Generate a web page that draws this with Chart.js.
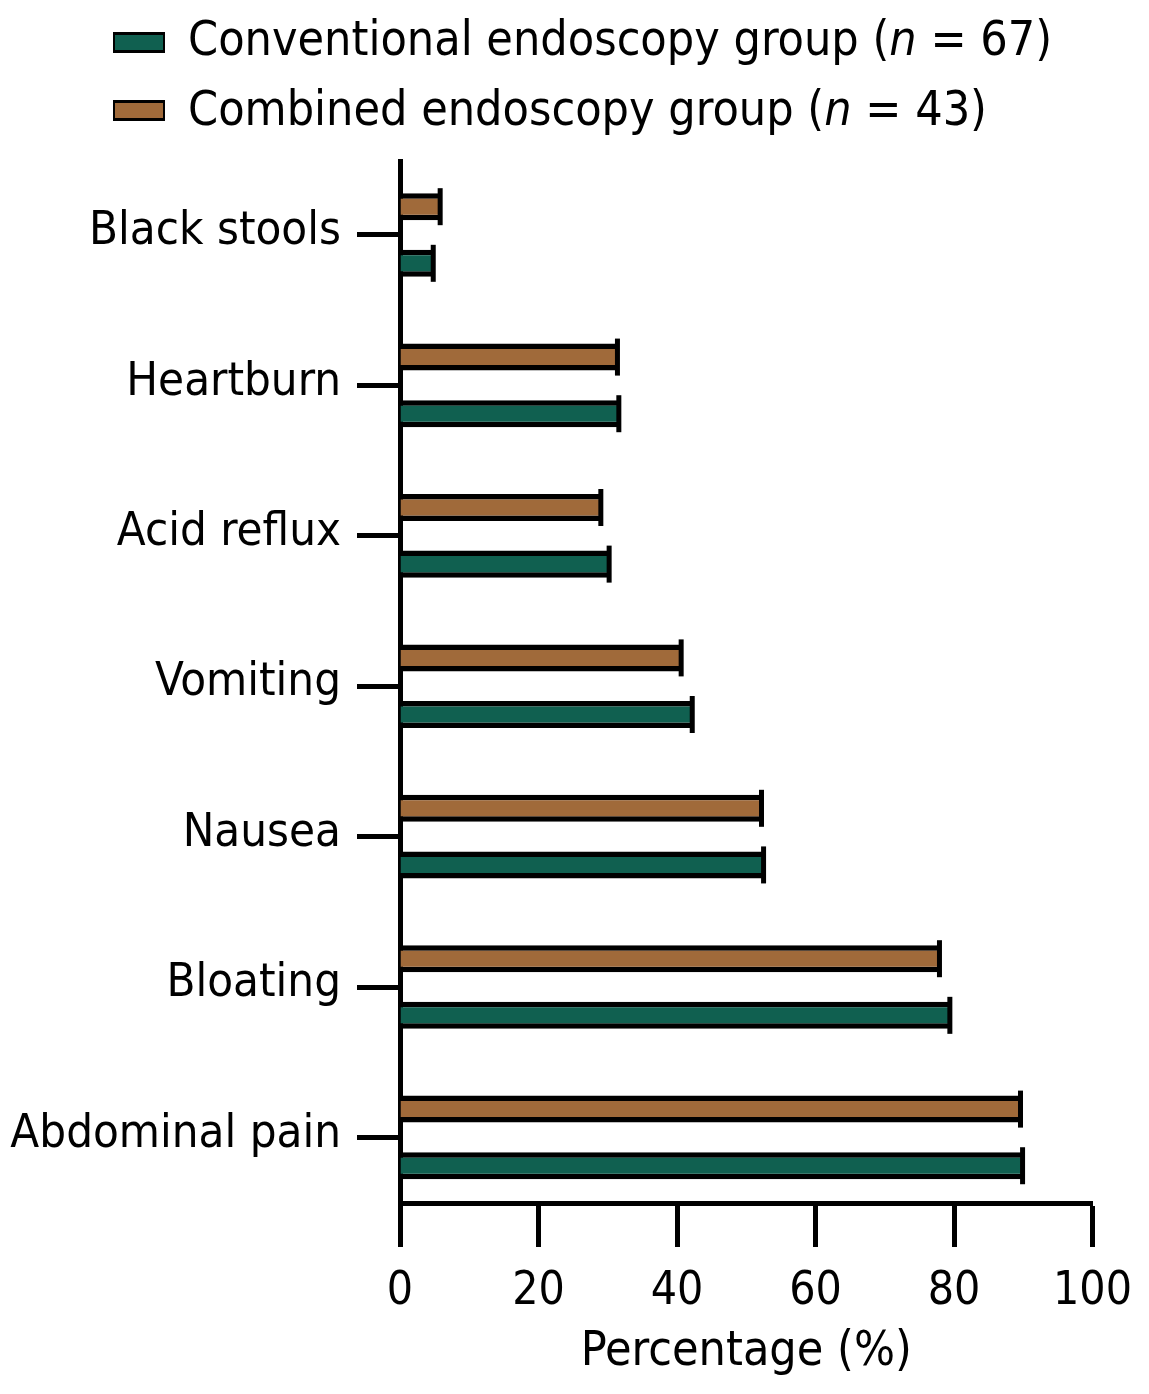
<!DOCTYPE html>
<html>
<head>
<meta charset="utf-8">
<script src="https://cdn.jsdelivr.net/npm/chart.js@4.4.1/dist/chart.umd.min.js"></script>
<style>
  body { margin: 0; background: #fff; }
  #wrap { position: relative; width: 1149px; height: 1394px; }
  #legend { position: absolute; left: 0; top: 0; font-family: "DejaVu Sans Condensed", "DejaVu Sans", sans-serif; font-size: 48px; color: #000; }
  .swatch { position: absolute; left: 113px; width: 52px; height: 21px; box-sizing: border-box; border: solid #000; border-width: 3px 2px; }
  .txt { position: absolute; left: 188px; line-height: 48px; white-space: nowrap; }
</style>
</head>
<body>
<div id="wrap">
  <canvas id="grafic" width="1149" height="1394"></canvas>
  <div id="legend"></div>
</div>
<script>
// Dades del gràfic
const simptomes = ['Black stools', 'Heartburn', 'Acid reflux', 'Vomiting', 'Nausea', 'Bloating', 'Abdominal pain'];
const grupConvencional = [4.8, 31.6, 30.2, 42.2, 52.5, 79.4, 89.9];
const grupCombinat = [5.8, 31.4, 29.0, 40.6, 52.2, 77.9, 89.6];
const ticksPercentatge = [0, 20, 40, 60, 80, 100];

const nomConvencional = 'Conventional endoscopy group';
const nomCombinat = 'Combined endoscopy group';
const nConvencional = 67;
const nCombinat = 43;

const colorVerd = '#106050';
const colorMarro = '#A06A3A';
const font = '"DejaVu Sans Condensed", "DejaVu Sans", sans-serif';

// Llegenda en HTML (la n va en cursiva)
function pintarLlegenda() {
    const files = [
        { nom: nomConvencional, n: nConvencional, color: colorVerd, top: 32, textTop: 14 },
        { nom: nomCombinat, n: nCombinat, color: colorMarro, top: 100, textTop: 84 }
    ];
    let html = '';
    for (let i = 0; i < files.length; i++) {
        const f = files[i];
        html += `<div class="swatch" style="top:${f.top}px;background:${f.color}"></div>`;
        html += `<div class="txt" style="top:${f.textTop}px">${f.nom} (<i>n</i> = ${f.n})</div>`;
    }
    document.getElementById('legend').innerHTML = html;
}

// Tapa negra al final de cada barra
const tapaBarres = {
    id: 'tapaBarres',
    afterDatasetsDraw(chart) {
        const ctx = chart.ctx;
        ctx.save();
        ctx.strokeStyle = '#000';
        ctx.lineWidth = 5;
        chart.data.datasets.forEach((ds, i) => {
            chart.getDatasetMeta(i).data.forEach(bar => {
                const p = bar.getProps(['x', 'y', 'height'], true);
                ctx.beginPath();
                ctx.moveTo(p.x, p.y - p.height / 2 - 5);
                ctx.lineTo(p.x, p.y + p.height / 2 + 5);
                ctx.stroke();
            });
        });
        ctx.restore();
    }
};

Chart.defaults.color = '#000';
Chart.defaults.font.family = font;

new Chart(document.getElementById('grafic'), {
    type: 'bar',
    data: {
        labels: simptomes,
        datasets: [
            {
                label: nomCombinat,
                data: grupCombinat,
                backgroundColor: colorMarro,
                borderColor: '#000',
                borderWidth: { top: 5.5, bottom: 5.5, left: 0, right: 0 },
                borderSkipped: false
            },
            {
                label: nomConvencional,
                data: grupConvencional,
                backgroundColor: colorVerd,
                borderColor: '#000',
                borderWidth: { top: 5.5, bottom: 5.5, left: 0, right: 0 },
                borderSkipped: false
            }
        ]
    },
    options: {
        indexAxis: 'y',
        responsive: false,
        animation: false,
        categoryPercentage: 0.753,
        barPercentage: 0.477,
        layout: { padding: { top: 161, right: 56, bottom: 0, left: 0 } },
        plugins: {
            legend: { display: false },
            tooltip: { enabled: false }
        },
        scales: {
            y: {
                type: 'category',
                offset: true,
                grid: { drawOnChartArea: false, offset: false, tickLength: 43, tickWidth: 5, tickColor: '#000' },
                border: { display: true, width: 5, color: '#000' },
                ticks: { font: { size: 47, family: font }, padding: 16, labelOffset: -3, color: '#000' },
                afterFit(scale) { scale.width = 400; },
                afterBuildTicks(scale) {
                    // la darrera categoria queda més a prop de l'eix x
                    scale._startValue = -0.492;
                    scale._valueRange = 6.928;
                }
            },
            x: {
                min: ticksPercentatge[0],
                max: ticksPercentatge[ticksPercentatge.length - 1],
                ticks: { stepSize: 20, font: { size: 46, family: font }, padding: 17, color: '#000', maxRotation: 0 },
                afterBuildTicks(scale) { scale.ticks = ticksPercentatge.map(v => ({ value: v })); },
                grid: { drawOnChartArea: false, tickLength: 44, tickWidth: 5, tickColor: '#000' },
                border: { display: true, width: 5, color: '#000' },
                title: {
                    display: true,
                    text: 'Percentage (%)',
                    font: { size: 48, family: font },
                    color: '#000',
                    padding: { top: 0, bottom: 13 }
                },
                afterFit(scale) { scale.height = 191; }
            }
        }
    },
    plugins: [tapaBarres]
});

pintarLlegenda();
</script>
</body>
</html>
